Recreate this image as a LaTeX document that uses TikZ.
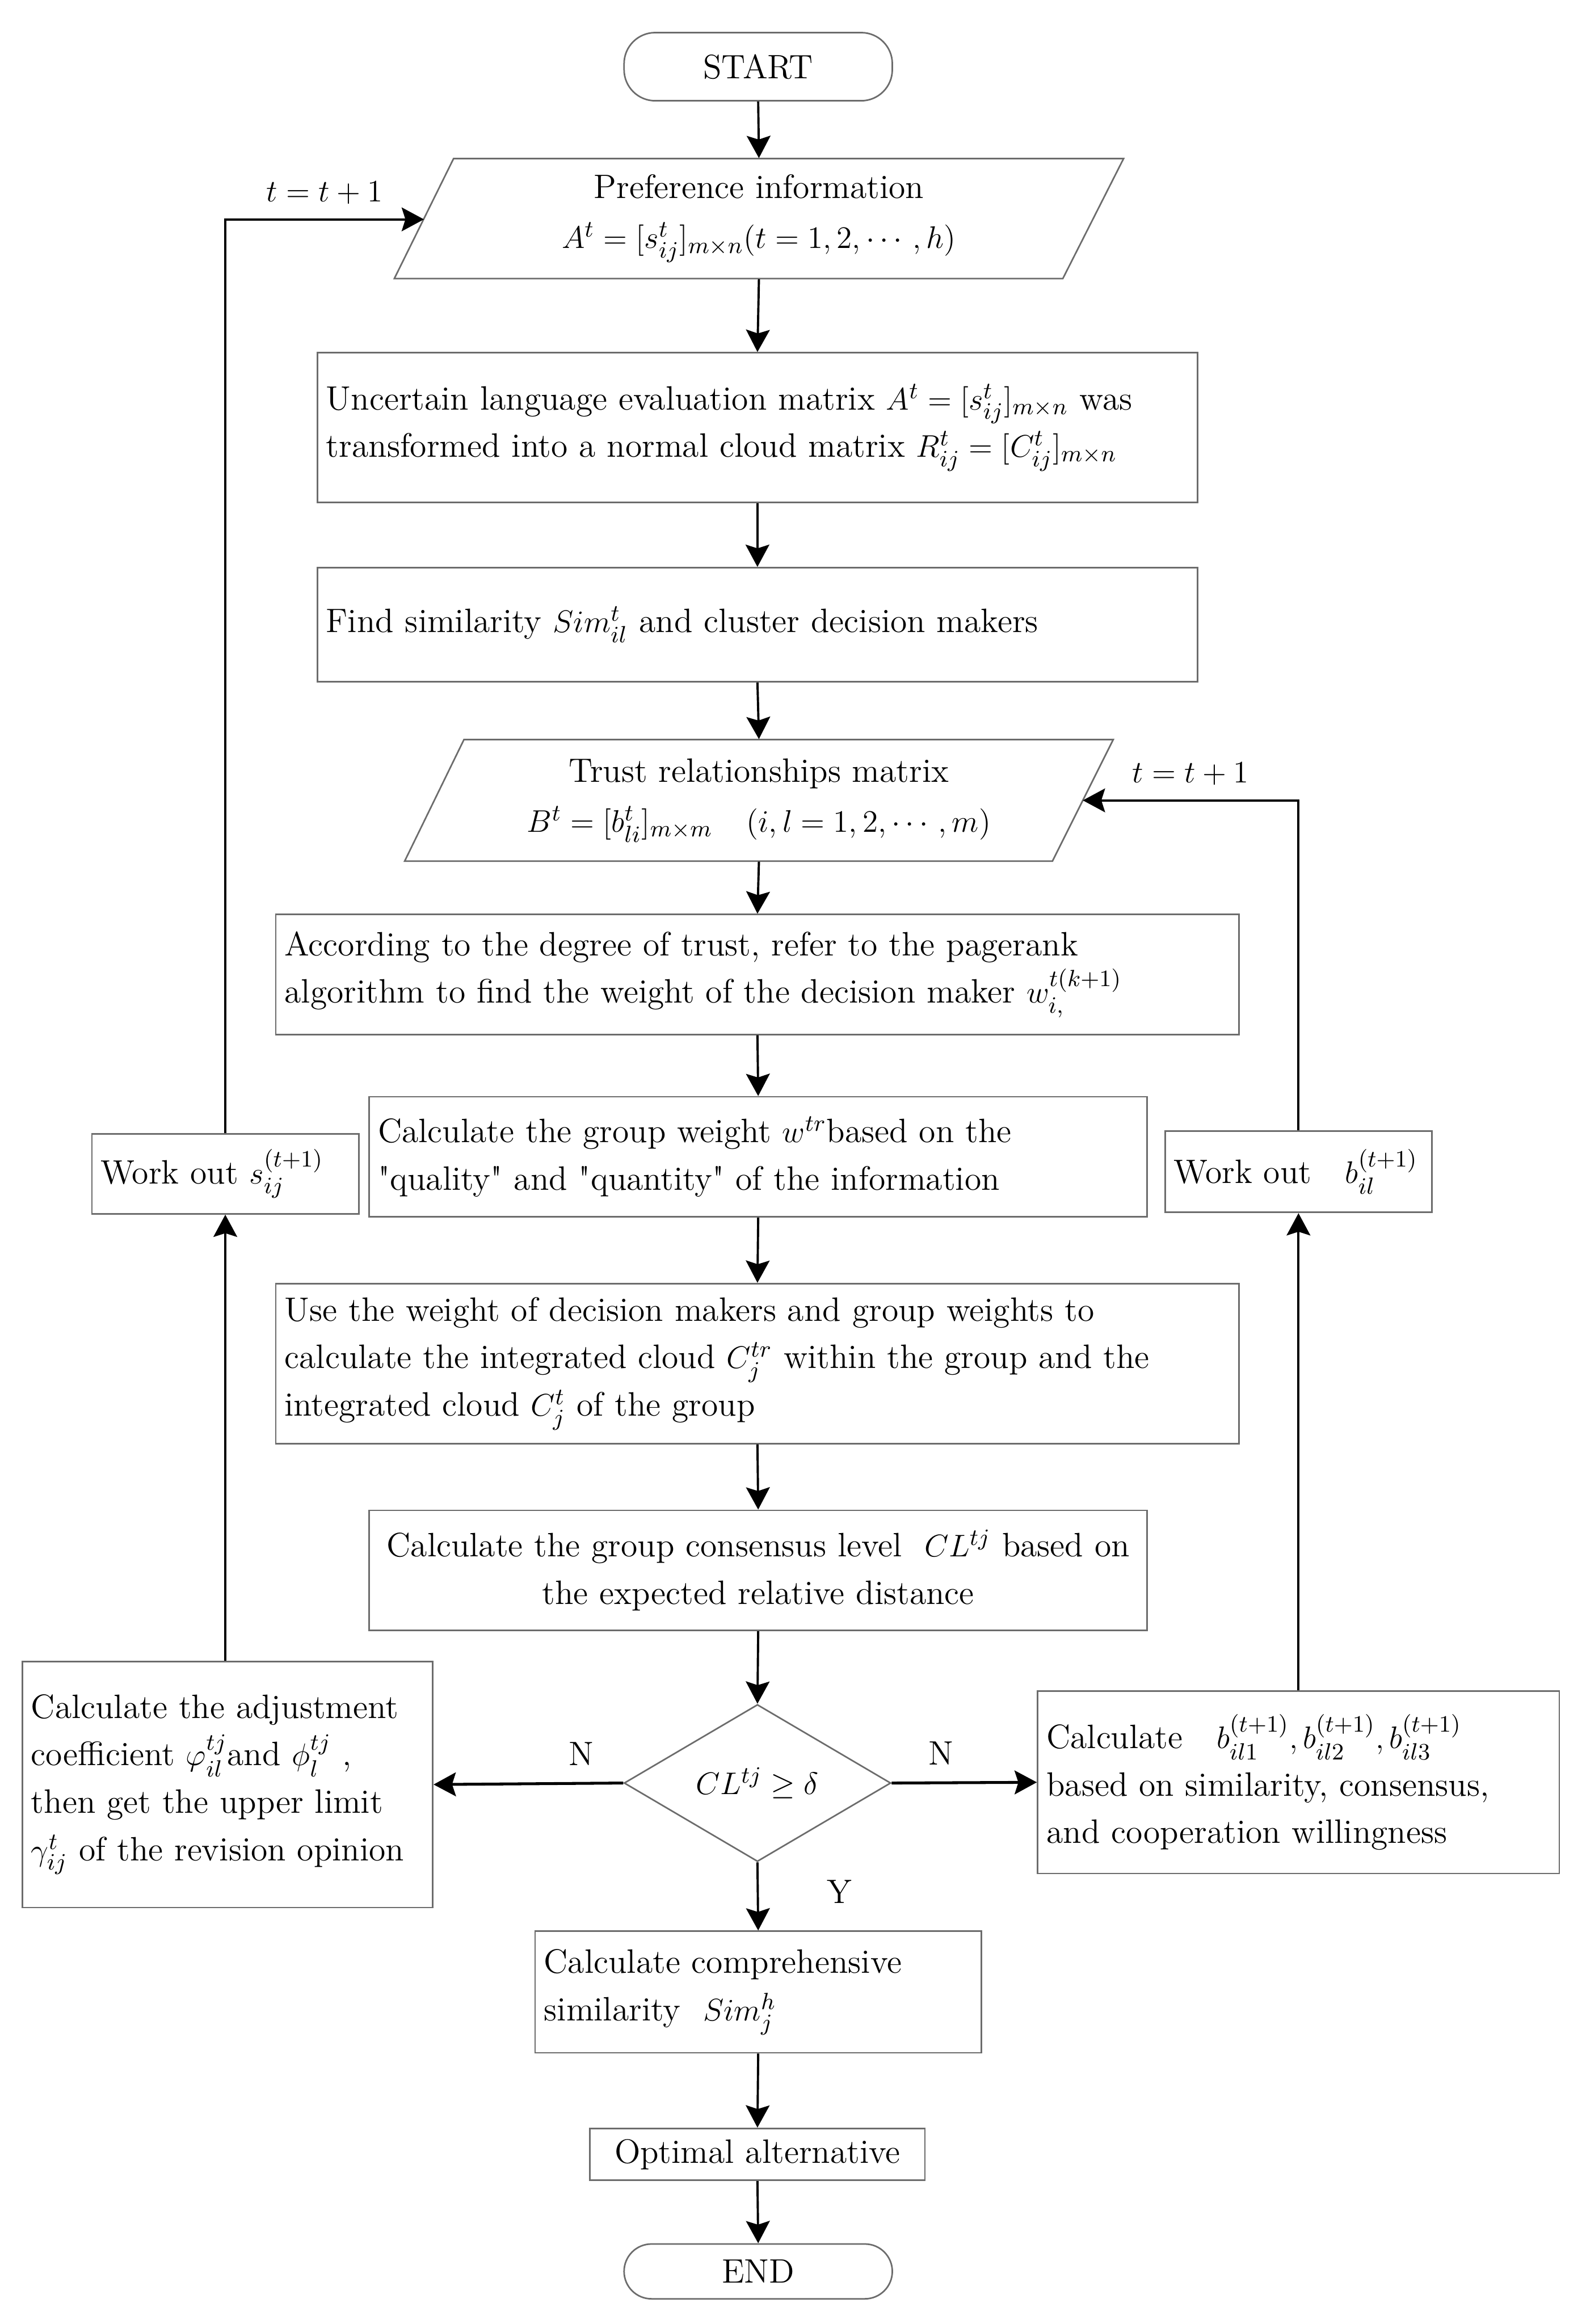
\documentclass[tikz,border=0pt]{standalone}
\usepackage{amsmath,amssymb}
\usepackage{fontspec}
\usepackage{tikz}
\usetikzlibrary{arrows.meta,shapes.geometric}
\newcommand{\flowfont}{\fontsize{13}{18.2}\selectfont}

\begin{document}
\begin{tikzpicture}[x=0.02cm,y=-0.02cm,
  box/.style={draw=gray!85!black,line width=0.6pt,inner xsep=0.12cm,inner ysep=0pt,align=left,font=\flowfont},
  term/.style={draw=gray!85!black,line width=0.6pt,minimum width=3.62cm,font=\flowfont},
  edge/.style={draw=gray!85!black,line width=0.6pt},
  arr/.style={-{Stealth[length=0.3cm,width=0.32cm,inset=0.05cm]},line width=0.85pt},
  thickarr/.style={arr,line width=1.1pt},
  lbl/.style={font=\flowfont}]
  \useasboundingbox (0,0) rectangle (1067,1568);
  % main column
  \node[term,minimum height=0.92cm,rounded corners=0.42cm] (start) at (511.5,45) {START};
  \draw[edge] (306,107) -- (758,107) -- (717,188) -- (266,188) -- cycle;
  \node[font=\flowfont,align=center,inner sep=0pt,minimum width=9.04cm,minimum height=1.62cm] (pref) at (512,147.5)
    {Preference information\\[1pt]$A^{t}=[s^{t}_{ij}]_{m\times n}(t=1,2,\cdots,h)$};
  \coordinate (prefL) at (286,148);
  \node[box,text width=11.64cm,minimum height=2.02cm] (uncert) at (511,288.5)
    {Uncertain language evaluation matrix $A^{t}=[s^{t}_{ij}]_{m\times n}$ was\\
     transformed into a normal cloud matrix $R^{t}_{ij}=[C^{t}_{ij}]_{m\times n}$};
  \node[box,text width=11.64cm,minimum height=1.54cm] (find) at (511,421.5)
    {Find similarity $Sim^{t}_{il}$ and cluster decision makers};
  \draw[edge] (313,499) -- (751,499) -- (710,581) -- (273,581) -- cycle;
  \node[font=\flowfont,align=center,inner sep=0pt,minimum width=8.76cm,minimum height=1.64cm] (trust) at (512,540)
    {Trust relationships matrix\\[1pt]$B^{t}=[b^{t}_{li}]_{m\times m}\quad(i,l=1,2,\cdots,m)$};
  \coordinate (trustR) at (730.5,540);
  \node[box,text width=12.76cm,minimum height=1.62cm] (accord) at (511,657.5)
    {According to the degree of trust, refer to the pagerank\\
     algorithm to find the weight of the decision maker $w^{t(k+1)}_{i,}$};
  \node[box,text width=10.26cm,minimum height=1.62cm] (group) at (511.5,780.5)
    {Calculate the group weight $w^{tr}$based on the\\
     \textquotedbl quality\textquotedbl{} and \textquotedbl quantity\textquotedbl{} of the information};
  \node[box,text width=12.76cm,minimum height=2.16cm] (use) at (511,920)
    {Use the weight of decision makers and group weights to\\
     calculate the integrated cloud $C^{tr}_{j}$ within the group and the\\
     integrated cloud $C^{t}_{j}$ of the group};
  \node[box,align=center,text width=10.26cm,minimum height=1.62cm] (cons) at (511.5,1059.5)
    {Calculate the group consensus level\ \ $CL^{tj}$ based on\\
     the expected relative distance};
  \node[edge,diamond,aspect=1.7,inner sep=0pt,minimum width=3.6cm,minimum height=2.12cm,font=\flowfont] (dec) at (511,1203)
    {$CL^{tj}\geq\delta$};
  \node[box,text width=5.78cm,minimum height=1.64cm] (compr) at (511.5,1344)
    {Calculate comprehensive\\similarity\ \ $Sim^{h}_{j}$};
  \node[box,align=center,text width=4.28cm,minimum height=0.7cm] (opt) at (511,1453.5) {Optimal alternative};
  \node[term,minimum height=0.74cm,rounded corners=0.37cm] (endn) at (511.5,1532.5) {END};
  % side boxes
  \node[box,text width=3.36cm,minimum height=1.08cm] (works) at (152,792) {Work out\ $s^{(t+1)}_{ij}$};
  \node[box,text width=3.36cm,minimum height=1.1cm] (workb) at (876,790.5) {Work out\quad$b^{(t+1)}_{il}$};
  \node[box,text width=5.30cm,minimum height=3.32cm] (adj) at (153.5,1204)
    {Calculate the adjustment\\
     coefficient\ $\varphi^{tj}_{il}$and $\phi^{tj}_{l}$\ ,\\
     then get the upper limit\\
     $\gamma^{t}_{ij}$ of the revision opinion};
  \node[box,text width=6.80cm,minimum height=2.46cm] (calcb) at (876,1202.5)
    {Calculate\quad$b^{(t+1)}_{il1},b^{(t+1)}_{il2},b^{(t+1)}_{il3}$\\
     based on similarity, consensus,\\
     and cooperation willingness};
  % connectors
  \draw[arr] (start.south) -- (pref.north);
  \draw[arr] (pref.south) -- (uncert.north);
  \draw[arr] (uncert.south) -- (find.north);
  \draw[arr] (find.south) -- (trust.north);
  \draw[arr] (trust.south) -- (accord.north);
  \draw[arr] (accord.south) -- (group.north);
  \draw[arr] (group.south) -- (use.north);
  \draw[arr] (use.south) -- (cons.north);
  \draw[arr] (cons.south) -- (dec.north);
  \draw[thickarr] (dec.west) -- node[lbl,pos=0.22,above=3pt] {N} (adj.east);
  \draw[thickarr] (dec.east) -- node[lbl,pos=0.34,above=3pt] {N} (calcb.west);
  \draw[arr] (dec.south) -- node[lbl,pos=0.43,right=0.8cm] {Y} (compr.north);
  \draw[arr] (compr.south) -- (opt.north);
  \draw[arr] (opt.south) -- (endn.north);
  % feedback loops
  \draw[arr] (adj.north -| works.south) -- (works.south);
  \draw[arr] (works.north) |- node[lbl,pos=0.75,above=2pt] {$t=t+1$} (prefL);
  \draw[arr] (calcb.north) -- (workb.south);
  \draw[arr] (workb.north) |- node[lbl,pos=0.75,above=2pt] {$t=t+1$} (trustR);
\end{tikzpicture}
\end{document}
